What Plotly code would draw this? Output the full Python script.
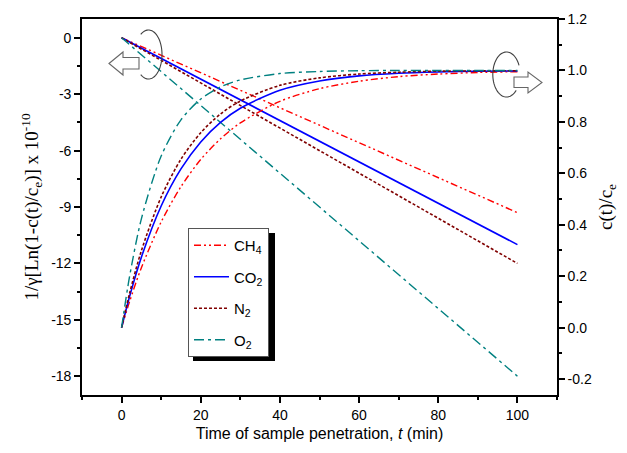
import math
import plotly.graph_objects as go

# ---------------- data ----------------
t = [0, 2, 5, 10, 15, 20, 25, 30, 40, 50, 60, 70, 80, 90, 100]
ch4_c = [0.0, 0.10, 0.233, 0.411, 0.548, 0.654, 0.734, 0.796, 0.880, 0.929, 0.958, 0.976, 0.986, 0.992, 0.995]
co2_c = [0.0, 0.12, 0.274, 0.473, 0.617, 0.722, 0.798, 0.853, 0.923, 0.959, 0.979, 0.989, 0.994, 0.997, 0.998]
n2_c = [0.0, 0.132, 0.299, 0.508, 0.655, 0.758, 0.831, 0.881, 0.942, 0.971, 0.986, 0.993, 0.997, 0.998, 0.999]
o2_c = [0.0, 0.197, 0.423, 0.667, 0.808, 0.889, 0.936, 0.963, 0.988, 0.996, 0.999, 1.0, 1.0, 1.0, 1.0]

t_lin = [0, 100]
ch4_lin = [0, -9.3]
co2_lin = [0, -11.0]
n2_lin = [0, -12.0]
o2_lin = [0, -18.0]

gases = ["CH<sub>4</sub>", "CO<sub>2</sub>", "N<sub>2</sub>", "O<sub>2</sub>"]
colors = ["#FF0000", "#0000FF", "#800000", "#008080"]
dashes = ["7px,3px,2px,3px,2px,3px", "solid", "3px,2px", "10px,4px,3px,4px"]
widths = [1.4, 1.6, 1.6, 1.4]

x_ticks = [0, 20, 40, 60, 80, 100]
y_ticks = [0, -3, -6, -9, -12, -15, -18]
y2_ticks = [-0.2, 0.0, 0.2, 0.4, 0.6, 0.8, 1.0, 1.2]

# ---------------- layout geometry ----------------
W, H = 627, 453
ML, MR, MT, MB = 82, 70, 19, 58
PW, PH = W - ML - MR, H - MT - MB


def px(x):
    return (x - ML) / PW


def py(y):
    return (H - MB - y) / PH


fig = go.Figure()

lins = [ch4_lin, co2_lin, n2_lin, o2_lin]
curves = [ch4_c, co2_c, n2_c, o2_c]
for i, g in enumerate(gases):
    fig.add_trace(go.Scatter(
        x=t_lin, y=lins[i], mode="lines", name=g, legendgroup=g,
        line=dict(color=colors[i], dash=dashes[i], width=widths[i]),
        yaxis="y", showlegend=True))
    fig.add_trace(go.Scatter(
        x=t, y=curves[i], mode="lines", name=g, legendgroup=g,
        line=dict(color=colors[i], dash=dashes[i], width=widths[i], shape="spline", smoothing=0.8),
        yaxis="y2", showlegend=False))

# ---------------- decorative rotation arrows ----------------
shapes = []


def ellipse_path(cx, cy, rx, ry, a0, a1, n=60):
    pts = []
    for k in range(n + 1):
        a = math.radians(a0 + (a1 - a0) * k / n)
        pts.append((px(cx + rx * math.cos(a)), py(cy + ry * math.sin(a))))
    return "M" + " L".join(f"{x:.5f},{y:.5f}" for x, y in pts)


def poly_path(points):
    return "M" + " L".join(f"{px(x):.5f},{py(y):.5f}" for x, y in points) + " Z"


# left ellipse (open on the left) and left-pointing arrow
shapes.append(dict(type="path", xref="paper", yref="paper",
                   path=ellipse_path(148.5, 54.5, 13.5, 24.5, -125, 125),
                   line=dict(color="#404040", width=1.1), layer="above"))
shapes.append(dict(type="path", xref="paper", yref="paper",
                   path=poly_path([(109, 63.5), (123, 52), (123, 57.5), (139, 57.5),
                                   (139, 69), (123, 69), (123, 75)]),
                   fillcolor="white", line=dict(color="#666666", width=1.1), layer="above"))
# right ellipse (open on the right) and right-pointing arrow
shapes.append(dict(type="path", xref="paper", yref="paper",
                   path=ellipse_path(506.5, 74.5, 13.7, 22.5, 45, 336),
                   line=dict(color="#404040", width=1.1), layer="above"))
shapes.append(dict(type="path", xref="paper", yref="paper",
                   path=poly_path([(514, 77), (528, 77), (528, 72), (542, 82.5),
                                   (528, 93), (528, 87.5), (514, 87.5)]),
                   fillcolor="white", line=dict(color="#666666", width=1.1), layer="above"))

# legend shadow
shapes.append(dict(type="rect", xref="paper", yref="paper",
                   x0=px(193), x1=px(275), y0=py(361), y1=py(233),
                   fillcolor="black", line=dict(width=0), layer="above"))

tickfont = dict(family="Arial, Liberation Sans, sans-serif", size=14, color="black")
serif = "Times New Roman, Liberation Serif, serif"

fig.update_layout(
    width=W, height=H,
    margin=dict(l=ML, r=MR, t=MT, b=MB, pad=0),
    paper_bgcolor="white", plot_bgcolor="white",
    showlegend=True,
    legend=dict(x=px(188), y=py(228), xanchor="left", yanchor="top",
                bgcolor="white", bordercolor="#555555", borderwidth=1,
                font=dict(family="Arial, Liberation Sans, sans-serif", size=15, color="black"),
                tracegroupgap=9, itemwidth=35, traceorder="grouped"),
    shapes=shapes,
    xaxis=dict(range=[-10, 110], showgrid=False, zeroline=False,
               showline=True, linecolor="black", linewidth=1.6, mirror=True,
               ticks="outside", ticklen=6, tickwidth=1.5, tickcolor="black",
               tickvals=x_ticks, ticktext=[str(v) for v in x_ticks],
               minor=dict(ticks="outside", ticklen=3, tickwidth=1.5, tickcolor="black",
                          tickvals=[-10, 10, 30, 50, 70, 90, 110]),
               tickfont=tickfont,
               title=dict(text="Time of sample penetration, <i>t</i> (min)",
                          font=dict(family="Arial, Liberation Sans, sans-serif", size=16, color="black"),
                          standoff=6)),
    yaxis=dict(range=[-19, 1], showgrid=False, zeroline=False,
               showline=True, linecolor="black", linewidth=1.6, mirror=False,
               ticks="outside", ticklen=6, tickwidth=1.5, tickcolor="black",
               tickvals=y_ticks, ticktext=[str(v) for v in y_ticks],
               minor=dict(ticks="outside", ticklen=3, tickwidth=1.5, tickcolor="black",
                          tickvals=[-16.5, -13.5, -10.5, -7.5, -4.5, -1.5]),
               tickfont=tickfont,
               title=dict(text="1/γ[Ln(1-c(t)/c<sub>e</sub>)] x 10<sup>-10</sup>",
                          font=dict(family=serif, size=19, color="black"),
                          standoff=8)),
    yaxis2=dict(range=[-0.262, 1.2], overlaying="y", side="right",
                showgrid=False, zeroline=False,
                showline=True, linecolor="black", linewidth=1.6,
                ticks="outside", ticklen=6, tickwidth=1.5, tickcolor="black",
                tickvals=y2_ticks, ticktext=[f"{v:.1f}" for v in y2_ticks],
                minor=dict(ticks="outside", ticklen=3, tickwidth=1.5, tickcolor="black",
                           tickvals=[-0.1, 0.1, 0.3, 0.5, 0.7, 0.9, 1.1]),
                tickfont=tickfont,
                title=dict(text="c(t)/c<sub>e</sub>",
                           font=dict(family=serif, size=19, color="black"),
                           standoff=8)),
)

fig.write_html("out.html")
